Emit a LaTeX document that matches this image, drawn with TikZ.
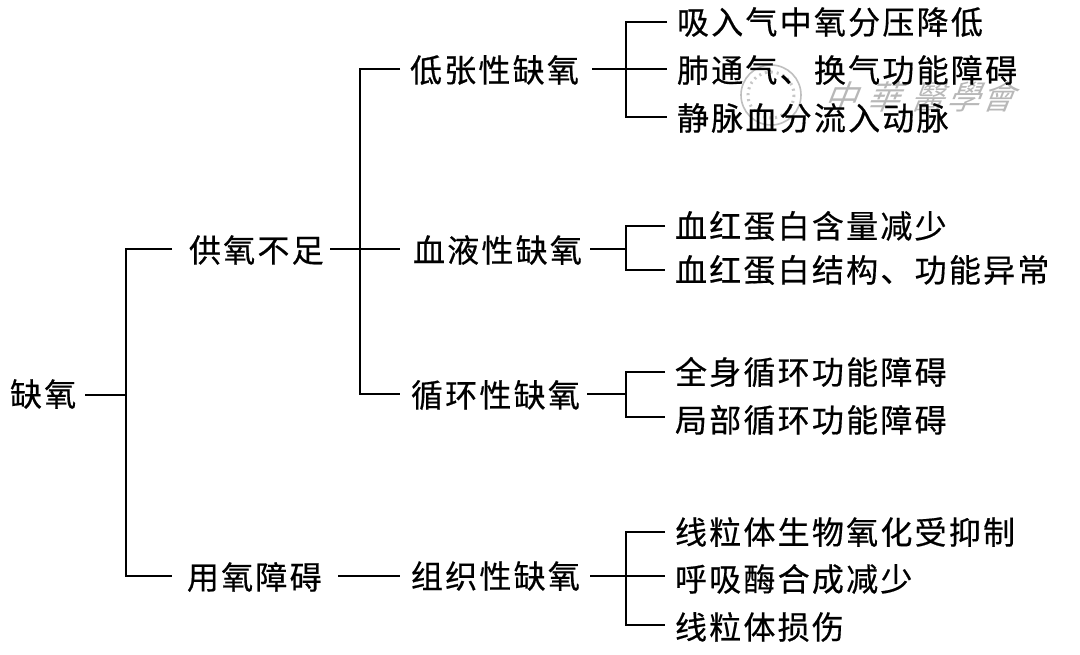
\documentclass[tikz,border=0pt]{standalone}
\usepackage{fontspec}
\setmainfont{Noto Sans CJK SC}[LetterSpace=7,FakeBold=0.5]
\newfontfamily\wmfont{Noto Sans CJK TC}
\tikzset{
  lab/.style={anchor=west,inner sep=0pt,outer sep=0pt,font=\fontsize{32}{32}\selectfont,text=black},
  conn/.style={line width=2.8pt,black,line cap=butt,line join=miter},
  wm/.style={inner sep=0pt,text=black!28,font=\wmfont\fontsize{33}{33}\selectfont,xslant=0.4}
}
\begin{document}
\begin{tikzpicture}[x=1pt,y=-1pt]
\useasboundingbox (0,0) rectangle (1080,655);
\fill[white] (0,0) rectangle (1080,655);
% watermark
\draw[black!25,line width=1.6pt] (771,95) circle (30);
\draw[black!22,line width=3pt,dash pattern=on 2pt off 4pt] (771,95) circle (23);
\node[wm] (w1) at (845,97) {中};
\node[wm] (w2) at (888,97) {華};
\node[wm] (w3) at (932,97) {醫};
\node[wm] (w4) at (968,97) {學};
\node[wm] (w5) at (1002,97) {會};
% labels
\node[lab] (root) at (10,394) {缺氧};
\node[lab] (a) at (189,250) {供氧不足};
\node[lab] (b) at (187,577) {用氧障碍};
\node[lab] (a1) at (410,70) {低张性缺氧};
\node[lab] (a2) at (413,250) {血液性缺氧};
\node[lab] (a3) at (411,395) {循环性缺氧};
\node[lab] (b1) at (411,576) {组织性缺氧};
\node[lab] (a11) at (677,22) {吸入气中氧分压降低};
\node[lab] (a12) at (677,70) {肺通气、换气功能障碍};
\node[lab] (a13) at (677,118) {静脉血分流入动脉};
\node[lab] (a21) at (675,226) {血红蛋白含量减少};
\node[lab] (a22) at (675,270) {血红蛋白结构、功能异常};
\node[lab] (a31) at (675,372) {全身循环功能障碍};
\node[lab] (a32) at (675,420) {局部循环功能障碍};
\node[lab] (b11) at (675,532) {线粒体生物氧化受抑制};
\node[lab] (b12) at (675,579) {呼吸酶合成减少};
\node[lab] (b13) at (675,627) {线粒体损伤};
% junction and end coordinates
\coordinate (rs) at (85,395);
\coordinate (J0) at (126,395);
\coordinate (ae) at (172,249);
\coordinate (be) at (172,576);
\coordinate (as) at (330,249);
\coordinate (J1) at (360,249);
\coordinate (a1e) at (400,69);
\coordinate (a2e) at (400,249);
\coordinate (a3e) at (400,394);
\coordinate (bs) at (338,576);
\coordinate (b1e) at (400,576);
\coordinate (a1s) at (592,69);
\coordinate (a2s) at (590,249);
\coordinate (a3s) at (587,394);
\coordinate (b1s) at (590,576);
\coordinate (a11e) at (667,22);
\coordinate (a12e) at (667,69);
\coordinate (a13e) at (667,117);
\coordinate (a21e) at (665,226);
\coordinate (a22e) at (665,270);
\coordinate (a31e) at (665,372);
\coordinate (a32e) at (665,417);
\coordinate (b11e) at (665,532);
\coordinate (b12e) at (665,576);
\coordinate (b13e) at (665,625);
% connectors
\draw[conn] (rs) -- (J0);
\draw[conn] (ae) -- (ae -| J0) -- (be -| J0) -- (be);
\draw[conn] (as) -- (a2e);
\draw[conn] (a1e) -- (a1e -| J1) -- (a3e -| J1) -- (a3e);
\draw[conn] (bs) -- (b1e);
\draw[conn] (a1s) -- (a12e);
\draw[conn] (a11e) -- ++(-41,0) |- (a13e);
\draw[conn] (a2s) -- (626,249);
\draw[conn] (a21e) -- ++(-39,0) |- (a22e);
\draw[conn] (a3s) -- (626,394);
\draw[conn] (a31e) -- ++(-39,0) |- (a32e);
\draw[conn] (b1s) -- (b12e);
\draw[conn] (b11e) -- ++(-39,0) |- (b13e);
\end{tikzpicture}
\end{document}
